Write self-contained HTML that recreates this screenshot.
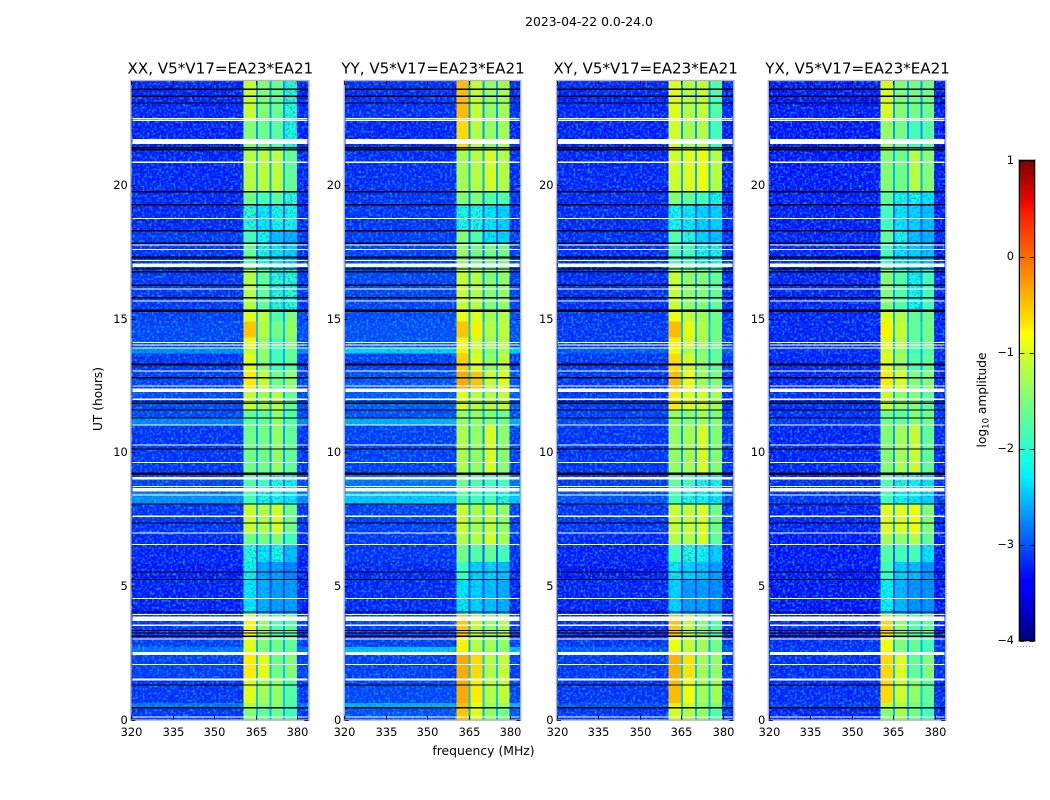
<!DOCTYPE html>
<html lang="en">
<head>
<meta charset="utf-8">
<title>2023-04-22 amplitude waterfall</title>
<style>
html,body{margin:0;padding:0;background:#fff;}
svg{display:block;}
text{font-family:"DejaVu Sans","Liberation Sans",sans-serif;fill:#000;}
</style>
</head>
<body>
<svg id="chart" xmlns="http://www.w3.org/2000/svg" width="1050" height="800" viewBox="0 0 1050 800">
  <defs>
    <filter id="grain-light" x="0" y="0" width="1" height="1">
      <feTurbulence type="fractalNoise" baseFrequency="0.42" numOctaves="2" seed="4"/>
      <feColorMatrix type="matrix" values="0 0 0 0 0  0 0 0 0 0.6  0 0 0 0 1  3.2 0 0 0 -1.45"/>
    </filter>
    <filter id="grain-dark" x="0" y="0" width="1" height="1">
      <feTurbulence type="fractalNoise" baseFrequency="0.42" numOctaves="2" seed="11"/>
      <feColorMatrix type="matrix" values="0 0 0 0 0  0 0 0 0 0.05  0 0 0 0 0.85  3.2 0 0 0 -1.5"/>
    </filter>
    <linearGradient id="jet-gradient" x1="0" y1="1" x2="0" y2="0">
      <stop offset="0" stop-color="#00007f"/>
      <stop offset="0.11" stop-color="#0000ff"/>
      <stop offset="0.125" stop-color="#0000ff"/>
      <stop offset="0.34" stop-color="#00f0ff"/>
      <stop offset="0.375" stop-color="#14ffe3"/>
      <stop offset="0.5" stop-color="#7cff7a"/>
      <stop offset="0.64" stop-color="#ffff00"/>
      <stop offset="0.66" stop-color="#ffe600"/>
      <stop offset="0.89" stop-color="#ff1c00"/>
      <stop offset="0.91" stop-color="#f10800"/>
      <stop offset="1" stop-color="#7f0000"/>
    </linearGradient>
  </defs>
  <text x="589" y="26" font-size="12.4" text-anchor="middle">2023-04-22 0.0-24.0</text>
  <text x="483.5" y="755" font-size="12.4" text-anchor="middle">frequency (MHz)</text>
  <text x="0" y="0" font-size="12.2" text-anchor="middle" transform="translate(102,399) rotate(-90)">UT (hours)</text>
  <text x="0" y="0" font-size="12.2" text-anchor="middle" transform="translate(986,400) rotate(-90)">log<tspan font-size="8.5" dy="2.5">10</tspan><tspan dy="-2.5"> amplitude</tspan></text>
  <g id="panels"></g>
  <g id="colorbar"></g>
</svg>
<script>
// ---- Data: log10 amplitude per time segment ----
const panelTitles = ["XX, V5*V17=EA23*EA21", "YY, V5*V17=EA23*EA21", "XY, V5*V17=EA23*EA21", "YX, V5*V17=EA23*EA21"];
const freqTicks = [320, 335, 350, 365, 380];
const utTicks = [0, 5, 10, 15, 20];
const colorTicks = [1, 0, -1, -2, -3, -4];
// Frequency band edges in MHz: background, four spectral windows separated by narrow gaps, background
const bandEdges = [320, 360.5, 365.0, 365.7, 370.0, 370.7, 374.9, 375.6, 379.8, 385];
const bandColumn = ["bg", "w1", "gap", "w2", "gap", "w3", "gap", "w4", "bg"];
// Time segment edges (UT hours, top to bottom)
const utEdges = [23.95, 22.45, 21.3, 19.75, 19.27, 18.3, 17.83, 16.86, 15.3, 14.9, 14.3, 13.91, 13.7, 13.04, 12.4, 11.59, 11.28, 11.02, 9.25, 8.5, 8.07, 7.0, 6.56, 5.9, 5.25, 3.95, 3.1, 2.72, 2.45, 1.5, 0.62, 0.47, 0];
const gapLevels = [-2.6, -2.6, -2.5, -2.7, -2.9, -2.9, -2.8, -2.6, -2.5, -2.4, -2.5, -2.5, -2.5, -2.4, -2.5, -2.5, -2.5, -2.6, -2.8, -2.6, -2.5, -2.6, -2.9, -3.0, -3.0, -2.5, -2.5, -2.5, -2.4, -2.4, -2.4, -2.5];
// Each row: background, window 1, window 2, window 3, window 4
const xxLevels = [
 [-3.3,-1.05,-1.45,-1.6,-1.95],[-3.32,-1.45,-1.6,-1.7,-2.05],[-3.3,-1.15,-1.1,-1.1,-1.65],[-3.28,-1.55,-1.8,-1.7,-1.95],
 [-3.28,-1.95,-2.2,-2.1,-2.1],[-3.2,-1.85,-2.1,-2.4,-2.5],[-3.22,-1.65,-2.1,-2.2,-2.3],[-3.2,-1.15,-1.65,-1.95,-1.95],
 [-3.15,-0.9,-1.1,-1.75,-1.45],[-3.1,-0.5,-1.15,-1.55,-1.35],[-3.1,-0.9,-1.35,-1.75,-1.45],[-2.7,-1.1,-1.35,-1.85,-1.65],
 [-3.2,-0.9,-1.35,-1.85,-1.65],[-3.15,-0.7,-1.05,-1.55,-1.35],[-3.1,-1.05,-1.25,-1.15,-1.65],[-3.1,-1.65,-1.65,-1.35,-1.75],
 [-2.75,-1.65,-1.65,-1.35,-1.75],[-3.22,-1.55,-1.55,-1.35,-1.65],[-3.12,-1.75,-1.9,-2.0,-2.1],[-2.7,-1.85,-2.1,-2.1,-2.2],
 [-3.22,-1.05,-1.15,-0.95,-1.55],[-3.28,-1.55,-1.55,-1.45,-1.85],[-3.32,-2.0,-2.2,-2.1,-2.4],[-3.36,-2.15,-2.55,-2.6,-2.75],
 [-3.32,-2.2,-2.5,-2.6,-2.6],[-3.2,-0.75,-1.35,-1.75,-1.75],[-3.15,-0.9,-1.45,-1.55,-1.65],[-2.85,-0.9,-1.45,-1.55,-1.65],
 [-3.15,-0.7,-0.85,-1.55,-1.45],[-3.2,-0.9,-1.25,-1.35,-1.75],[-2.85,-1.2,-1.4,-1.4,-1.8],[-3.2,-1.45,-1.65,-1.55,-1.85]];
const yyLevels = [
 [-3.25,-0.45,-1.05,-1.35,-1.25],[-3.3,-0.6,-1.15,-1.35,-1.25],[-3.25,-1.25,-1.15,-0.95,-1.15],[-3.22,-1.45,-1.45,-1.75,-1.75],
 [-3.22,-2.05,-2.05,-2.2,-2.3],[-3.18,-1.45,-1.75,-2.2,-2.3],[-3.12,-1.35,-1.55,-1.55,-1.55],[-3.12,-1.05,-1.15,-1.45,-1.35],
 [-3.1,-0.85,-0.9,-1.25,-1.15],[-3.05,-0.5,-0.75,-1.15,-1.1],[-3.05,-0.75,-1.0,-1.25,-1.15],[-2.3,-0.75,-1.05,-1.45,-1.25],
 [-3.15,-0.55,-0.9,-1.35,-1.1],[-3.05,-0.35,-0.5,-1.05,-0.9],[-3.0,-0.9,-1.15,-1.15,-1.05],[-3.05,-1.35,-1.35,-1.45,-1.55],
 [-2.5,-1.35,-1.35,-1.45,-1.55],[-3.15,-1.2,-1.35,-0.95,-1.4],[-2.85,-1.55,-1.75,-1.85,-1.85],[-2.35,-1.75,-1.85,-1.85,-2.0],
 [-3.15,-1.05,-1.25,-1.1,-1.35],[-3.2,-1.15,-1.15,-0.95,-1.25],[-3.22,-1.55,-1.75,-1.65,-1.85],[-3.28,-1.9,-2.3,-2.3,-2.4],
 [-3.28,-2.2,-2.3,-2.4,-2.5],[-3.15,-0.5,-1.05,-1.35,-1.15],[-3.15,-0.75,-1.15,-1.25,-1.35],[-2.4,-0.75,-1.15,-1.25,-1.35],
 [-3.15,-0.35,-0.6,-1.15,-1.05],[-3.1,-0.35,-0.7,-1.15,-1.05],[-2.5,-0.45,-0.85,-1.3,-1.3],[-3.05,-0.5,-0.9,-1.35,-1.55]];
const xyLevels = [
 [-3.3,-0.9,-1.15,-1.05,-1.75],[-3.32,-1.0,-1.25,-1.15,-1.85],[-3.3,-1.0,-0.9,-0.8,-1.15],[-3.28,-1.45,-1.65,-1.85,-2.1],
 [-3.28,-2.1,-2.2,-2.3,-2.3],[-3.25,-1.75,-2.0,-2.3,-2.4],[-3.25,-1.75,-1.85,-2.1,-2.1],[-3.25,-1.05,-1.35,-1.45,-1.65],
 [-3.2,-0.8,-1.05,-1.25,-1.55],[-3.2,-0.45,-0.85,-1.15,-1.55],[-3.2,-0.7,-0.95,-1.25,-1.55],[-3.0,-0.8,-1.25,-1.45,-1.65],
 [-3.2,-0.6,-0.95,-1.35,-1.65],[-3.2,-0.45,-0.8,-1.25,-1.45],[-3.2,-0.7,-0.9,-0.95,-1.25],[-3.15,-1.35,-1.45,-1.25,-1.45],
 [-3.1,-1.35,-1.45,-1.25,-1.45],[-3.22,-1.35,-1.25,-0.95,-1.45],[-3.2,-1.65,-1.85,-2.0,-2.1],[-3.05,-1.85,-2.0,-2.1,-2.2],
 [-3.22,-1.05,-1.05,-0.9,-1.55],[-3.28,-1.15,-1.15,-0.95,-1.65],[-3.32,-1.9,-2.0,-2.1,-2.3],[-3.36,-2.2,-2.3,-2.4,-2.6],
 [-3.32,-2.3,-2.6,-2.6,-2.7],[-3.25,-0.5,-1.05,-1.45,-1.75],[-3.2,-0.8,-1.05,-1.25,-1.55],[-3.0,-0.8,-1.05,-1.25,-1.55],
 [-3.2,-0.4,-0.65,-1.25,-1.35],[-3.2,-0.45,-0.8,-1.25,-1.25],[-3.05,-0.7,-1.0,-1.35,-1.5],[-3.22,-1.0,-1.15,-1.35,-1.75]];
const yxLevels = [
 [-3.36,-0.95,-1.45,-1.55,-1.55],[-3.38,-1.35,-1.55,-1.85,-1.75],[-3.36,-1.45,-1.55,-1.15,-1.45],[-3.34,-1.65,-2.1,-2.1,-2.2],
 [-3.34,-1.85,-2.2,-2.3,-2.4],[-3.3,-1.65,-2.1,-2.4,-2.5],[-3.3,-1.85,-2.2,-2.3,-2.4],[-3.3,-1.45,-1.75,-2.1,-1.85],
 [-3.3,-0.9,-1.15,-1.65,-1.55],[-3.3,-0.75,-1.05,-1.65,-1.55],[-3.3,-0.9,-1.15,-1.65,-1.55],[-3.25,-1.0,-1.35,-1.85,-1.75],
 [-3.3,-0.9,-1.25,-1.75,-1.65],[-3.3,-0.7,-0.9,-1.45,-1.45],[-3.25,-1.05,-1.35,-1.45,-1.65],[-3.25,-1.55,-1.65,-1.45,-1.55],
 [-3.2,-1.55,-1.65,-1.45,-1.55],[-3.3,-1.45,-1.25,-1.05,-1.65],[-3.25,-1.75,-2.0,-2.1,-2.2],[-3.2,-1.85,-2.1,-2.2,-2.3],
 [-3.3,-0.9,-0.9,-0.8,-1.45],[-3.35,-1.25,-1.35,-1.15,-1.65],[-3.4,-1.75,-1.85,-1.85,-2.2],[-3.42,-1.9,-2.3,-2.4,-2.65],
 [-3.38,-2.15,-2.45,-2.65,-2.65],[-3.3,-0.6,-1.35,-1.75,-1.65],[-3.25,-0.8,-1.45,-1.65,-1.85],[-3.2,-0.8,-1.45,-1.65,-1.85],
 [-3.25,-0.6,-0.9,-1.65,-1.45],[-3.25,-0.6,-1.0,-1.35,-1.65],[-3.2,-1.1,-1.2,-1.5,-1.75],[-3.3,-1.45,-1.25,-1.55,-1.85]];
// Flagged integrations, shared by all panels (UT hours)
const whiteFlagTops = [22.51, 22.45, 21.73, 20.88, 18.78, 17.79, 17.62, 17.2, 17.07, 16.13, 15.68, 14.14, 14.04, 13.93, 13.06, 12.5, 12.39, 12.01, 11.04, 10.29, 9.65, 9.08, 8.74, 8.66, 8.43, 7.63, 7.0, 6.58, 4.56, 3.96, 3.85, 3.55, 3.04, 2.53, 2.09, 1.53, 0.12];
const whiteFlagBottoms = [22.47, 22.41, 21.55, 20.84, 18.74, 17.75, 17.58, 17.16, 16.94, 16.09, 15.64, 14.1, 14.0, 13.89, 13.02, 12.46, 12.26, 11.97, 11.0, 10.25, 9.61, 8.98, 8.7, 8.53, 8.39, 7.59, 6.96, 6.54, 4.52, 3.92, 3.69, 3.51, 3.0, 2.42, 2.05, 1.46, 0.08];
const blackFlagTops = [23.61, 23.35, 23.09, 21.43, 21.36, 19.78, 19.3, 18.33, 17.86, 17.34, 17.29, 16.88, 16.79, 16.29, 15.82, 15.34, 13.33, 12.83, 11.91, 11.85, 11.61, 11.3, 10.14, 9.24, 9.2, 8.09, 7.37, 5.54, 5.27, 4.04, 3.35, 3.26, 3.14, 1.31, 0.47];
const blackFlagBottoms = [23.57, 23.31, 23.05, 21.38, 21.3, 19.72, 19.24, 18.27, 17.8, 17.3, 17.25, 16.84, 16.73, 16.23, 15.76, 15.26, 13.25, 12.77, 11.87, 11.81, 11.57, 11.26, 10.1, 9.2, 9.16, 8.05, 7.33, 5.5, 5.23, 4.0, 3.31, 3.22, 3.1, 1.27, 0.41];

// ---- Layout and scales ----
const panelLevels = [xxLevels, yyLevels, xyLevels, yxLevels];
const panelKeys = ["xx", "yy", "xy", "yx"];
const panelBoxes = [
  {left: 131.3, right: 308.4, zero: 131.3},
  {left: 344.7, right: 520.3, zero: 344.2},
  {left: 557.0, right: 733.3, zero: 556.6},
  {left: 768.8, right: 945.3, zero: 768.6}
];
const plotTop = 81, plotBottom = 719.6;
const NS = "http://www.w3.org/2000/svg";
function make(tag, attrs, parent) {
  const el = document.createElementNS(NS, tag);
  for (const k in attrs) el.setAttribute(k, attrs[k]);
  parent.appendChild(el);
  return el;
}
function yOf(ut) { return plotBottom - ut * 26.72; }
function xOf(box, f) { return Math.min(box.right, box.zero + (f - 320) * 2.767); }
function ramp(t, pts) {
  for (let i = 1; i < pts.length; i++) {
    if (t <= pts[i][0]) {
      const a = pts[i - 1], b = pts[i];
      return a[1] + (b[1] - a[1]) * (t - a[0]) / (b[0] - a[0]);
    }
  }
  return pts[pts.length - 1][1];
}
function jet(level) {
  const t = Math.max(0, Math.min(1, (level + 4) / 5));
  const r = ramp(t, [[0, 0], [0.35, 0], [0.66, 1], [0.89, 1], [1, 0.5]]);
  const g = ramp(t, [[0, 0], [0.125, 0], [0.375, 1], [0.64, 1], [0.91, 0], [1, 0]]);
  const b = ramp(t, [[0, 0.5], [0.11, 1], [0.34, 1], [0.65, 0], [1, 0]]);
  return "rgb(" + Math.round(r * 255) + "," + Math.round(g * 255) + "," + Math.round(b * 255) + ")";
}
function levelFor(row, col, panelRow) {
  if (col === "gap") return gapLevels[row];
  if (col === "bg") return panelRow[0];
  return panelRow[Number(col.slice(1))];
}

// ---- Panels ----
const panelsRoot = document.getElementById("panels");
panelBoxes.forEach(function (box, p) {
  const key = panelKeys[p];
  const levels = panelLevels[p];
  const group = make("g", {}, panelsRoot);
  
  
  const clipId = "clip-" + key;
  const clip = make("clipPath", {id: clipId}, group);
  make("rect", {x: box.left, y: plotTop, width: box.right - box.left, height: plotBottom - plotTop}, clip);
  const heat = make("g", {"clip-path": "url(#" + clipId + ")", "shape-rendering": "crispEdges"}, group);
  
  

  levels.forEach(function (row, r) {
    const yTop = yOf(utEdges[r]), yBot = yOf(utEdges[r + 1]);
    bandColumn.forEach(function (col, c) {
      const x0 = xOf(box, bandEdges[c]), x1 = xOf(box, bandEdges[c + 1]);
      const level = levelFor(r, col, row);
      const cell = make("rect", {
        x: x0.toFixed(2), y: yTop.toFixed(2),
        width: Math.max(0, x1 - x0).toFixed(2),
        height: (yBot - yTop + 0.5).toFixed(2),
        fill: jet(level)
      }, heat);
      
      
      // decorative speckle on faint cells only
      if (col !== "gap" && level < -1.9) {
        const strength = col === "bg" ? 0.8 : 0.5;
        const light = make("rect", {x: x0.toFixed(2), y: yTop.toFixed(2), width: Math.max(0, x1 - x0).toFixed(2), height: (yBot - yTop).toFixed(2), filter: "url(#grain-light)", opacity: strength}, heat);
        
        
        const dark = make("rect", {x: x0.toFixed(2), y: yTop.toFixed(2), width: Math.max(0, x1 - x0).toFixed(2), height: (yBot - yTop).toFixed(2), filter: "url(#grain-dark)", opacity: 0.4}, heat);
        
        
      }
    });
  });

  whiteFlagTops.forEach(function (top, i) {
    const w = make("rect", {x: box.left + 1, y: yOf(top).toFixed(2), width: box.right - box.left - 2, height: Math.max(1, yOf(whiteFlagBottoms[i]) - yOf(top)).toFixed(2), fill: "#fff"}, heat);
    
    
  });
  blackFlagTops.forEach(function (top, i) {
    const k = make("rect", {x: box.left, y: yOf(top).toFixed(2), width: box.right - box.left, height: Math.max(1, yOf(blackFlagBottoms[i]) - yOf(top)).toFixed(2), fill: "#000"}, heat);
    
    
  });

  const frame = make("rect", {x: box.left - 0.5, y: plotTop - 0.5, width: box.right - box.left + 1, height: plotBottom - plotTop + 1, fill: "none", stroke: "#b4b4b4", "stroke-width": 1.4}, group);
  
  

  freqTicks.forEach(function (f) {
    const x = Math.round(xOf(box, f)) + 0.5;
    const t1 = make("line", {x1: x, x2: x, y1: plotBottom, y2: plotBottom - 4, stroke: "#000", "stroke-width": 0.8}, group);
    
    
    const t2 = make("line", {x1: x, x2: x, y1: plotTop, y2: plotTop + 4, stroke: "#000", "stroke-width": 0.8}, group);
    
    
    const lab = make("text", {x: x, y: 736, "font-size": 11.4, "text-anchor": "middle"}, group);
    lab.textContent = String(f);
    
    
  });
  utTicks.forEach(function (u) {
    const y = Math.round(yOf(u)) + 0.5;
    const t1 = make("line", {x1: box.left, x2: box.left + 4, y1: y, y2: y, stroke: "#000", "stroke-width": 0.8}, group);
    
    
    const t2 = make("line", {x1: box.right, x2: box.right - 4, y1: y, y2: y, stroke: "#000", "stroke-width": 0.8}, group);
    
    
    const lab = make("text", {x: box.left - 3.5, y: y + 3.5, "font-size": 11.4, "text-anchor": "end"}, group);
    lab.textContent = String(u);
    
    
  });
  const title = make("text", {x: (box.left + box.right) / 2 + 0.5, y: 73.5, "font-size": 15.1, "text-anchor": "middle"}, group);
  title.textContent = panelTitles[p];
  
  
});

// ---- Colorbar ----
const bar = document.getElementById("colorbar");
const barX0 = 1019.5, barX1 = 1034.5, barY0 = 160.5, barY1 = 640.5;
function barY(v) { return barY1 - (v + 4) / 5 * (barY1 - barY0); }
const ramp1 = make("rect", {x: barX0, y: barY0, width: barX1 - barX0, height: barY1 - barY0, fill: "url(#jet-gradient)", stroke: "#000", "stroke-width": 1}, bar);


const barFrame = make("rect", {x: barX0 - 1, y: barY0 - 1, width: barX1 - barX0 + 2, height: barY1 - barY0 + 2, fill: "none", stroke: "#b4b4b4", "stroke-width": 1}, bar);


colorTicks.forEach(function (v) {
  const y = Math.round(barY(v)) + 0.5;
  const lab = make("text", {x: 1014, y: y + 2.5, "font-size": 11.4, "text-anchor": "end"}, bar);
  lab.textContent = (v < 0 ? "\u2212" + Math.abs(v) : String(v));
  
  
  const a = make("line", {x1: barX0, x2: barX0 + 5, y1: y, y2: y, stroke: "#000", "stroke-width": 0.8}, bar);
  
  
  const b = make("line", {x1: barX1, x2: barX1 - 5, y1: y, y2: y, stroke: "#000", "stroke-width": 0.8}, bar);
  
  
});
const dots = make("line", {x1: 1017, x2: 1035, y1: 646.5, y2: 646.5, stroke: "#999", "stroke-width": 1, "stroke-dasharray": "1 2"}, bar);


</script>
</body>
</html>
